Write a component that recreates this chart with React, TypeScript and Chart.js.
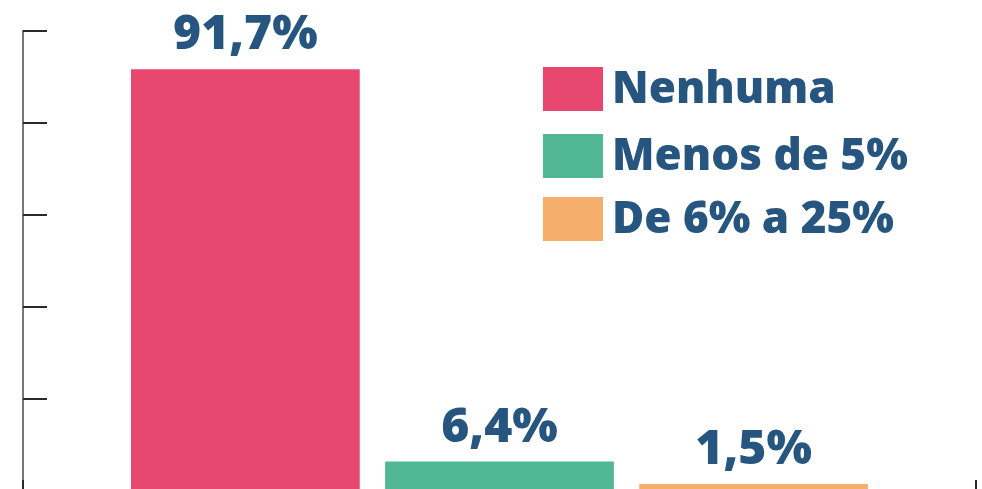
import React, { useEffect, useRef } from "react";
import { Chart, registerables } from "chart.js";

Chart.register(...registerables);

const categories = [""];
const seriesLabels = ["Nenhuma", "Menos de 5%", "De 6% a 25%"];
const seriesValues = [91.7, 6.4, 1.5];
const valueLabels = ["91,7%", "6,4%", "1,5%"];
const seriesColors = ["#E84870", "#51B794", "#F5AE6B"];
const yTicks = [0, 20, 40, 60, 80, 100];

const TEXT_COLOR = "#26567F";
const FONT = '"Open Sans", "DejaVu Sans", sans-serif';

const decorPlugin = {
  id: "decor",
  afterDatasetsDraw(chart: any) {
    const ctx = chart.ctx;
    const area = chart.chartArea;
    const y = chart.scales.y;
    ctx.save();
    // y axis line
    ctx.strokeStyle = "#4a4a4a";
    ctx.lineWidth = 1.5;
    ctx.beginPath();
    ctx.moveTo(area.left, y.getPixelForValue(100) - 1);
    ctx.lineTo(area.left, area.bottom);
    ctx.stroke();
    // y ticks (inside)
    ctx.strokeStyle = "#2a2a2a";
    ctx.lineWidth = 2;
    yTicks.forEach((v) => {
      const py = Math.round(y.getPixelForValue(v)) + 0.0;
      ctx.beginPath();
      ctx.moveTo(area.left, py);
      ctx.lineTo(area.left + 24, py);
      ctx.stroke();
    });
    // x ticks at category edges (inside)
    [area.left, area.right].forEach((px) => {
      ctx.beginPath();
      ctx.moveTo(px, area.bottom);
      ctx.lineTo(px, area.bottom - 11);
      ctx.stroke();
    });
    // value labels
    ctx.fillStyle = TEXT_COLOR;
    ctx.font = `800 48px ${FONT}`;
    ctx.textAlign = "center";
    ctx.textBaseline = "alphabetic";
    chart.data.datasets.forEach((ds: any, i: number) => {
      const meta = chart.getDatasetMeta(i);
      const bar = meta.data[0];
      if (!bar) return;
      ctx.fillText(valueLabels[i], bar.x, bar.y - 20);
    });
    // legend
    const swX = 543;
    const swW = 60;
    const swH = 44;
    const tops = [67, 134, 197];
    ctx.textAlign = "left";
    ctx.font = `800 44px ${FONT}`;
    chart.data.datasets.forEach((ds: any, i: number) => {
      ctx.fillStyle = ds.backgroundColor;
      ctx.fillRect(swX, tops[i], swW, swH);
      ctx.fillStyle = TEXT_COLOR;
      ctx.fillText(ds.label, 612, tops[i] + 36);
    });
    ctx.restore();
  },
};

export default function App() {
  const ref = useRef<HTMLCanvasElement | null>(null);
  useEffect(() => {
    if (!ref.current) return;
    const chart = new Chart(ref.current, {
      type: "bar",
      data: {
        labels: categories,
        datasets: seriesLabels.map((label, i) => ({
          label,
          data: [seriesValues[i]],
          backgroundColor: seriesColors[i],
          borderWidth: 0,
        })),
      },
      options: {
        animation: false,
        responsive: false,
        devicePixelRatio: 1,
        layout: { padding: { left: 23, right: 6, top: 31, bottom: 4 } },
        plugins: { legend: { display: false }, tooltip: { enabled: false } },
        datasets: { bar: { categoryPercentage: 0.8, barPercentage: 0.9 } },
        scales: {
          x: { display: false, offset: true },
          y: { display: false, min: 0, max: 100 },
        },
      },
      plugins: [decorPlugin],
    });
    return () => chart.destroy();
  }, []);
  return (
    <div
      style={{
        position: "fixed",
        left: 0,
        top: 0,
        width: 982,
        height: 489,
        overflow: "hidden",
        background: "#fff",
      }}
    >
      <canvas ref={ref} width={982} height={495} style={{ display: "block" }} />
    </div>
  );
}
